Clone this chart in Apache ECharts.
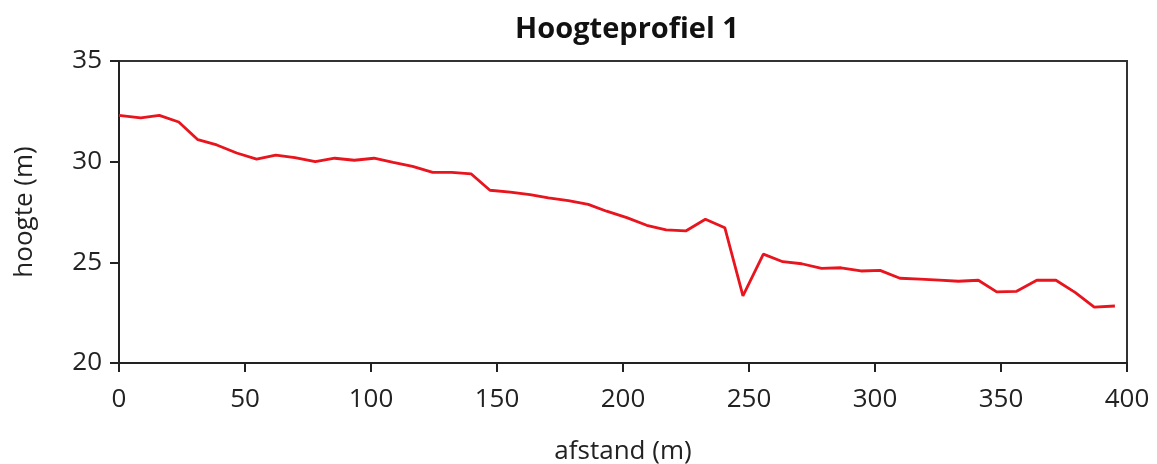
<!DOCTYPE html>
<html>
<head>
<meta charset="utf-8">
<script src="https://cdn.jsdelivr.net/npm/echarts@6/dist/echarts.min.js"></script>
<style>html,body{margin:0;padding:0;background:#fff;}#c{width:1157px;height:464px;}</style>
</head>
<body>
<div id="c"></div>
<script>
const titleText = 'Hoogteprofiel 1';
const xName = 'afstand (m)';
const yName = 'hoogte (m)';
const afstand = [0, 8.6, 16.0, 23.7, 31.3, 38.8, 46.7, 54.6, 62.2, 69.8, 77.9, 85.6, 93.4, 101.2, 108.8, 116.5, 124.5, 132.0, 139.8, 147.2, 155.2, 163.1, 170.4, 178.3, 186.2, 193.5, 201.5, 209.4, 217.1, 224.9, 232.7, 240.4, 247.6, 255.7, 263.4, 270.9, 278.8, 286.5, 294.4, 302.0, 309.9, 317.9, 325.5, 333.1, 341.0, 348.3, 356.2, 364.2, 371.8, 379.4, 387.0, 395.2];
const hoogte = [32.3, 32.17, 32.3, 31.97, 31.09, 30.83, 30.43, 30.13, 30.33, 30.2, 30.0, 30.17, 30.07, 30.17, 29.97, 29.77, 29.47, 29.47, 29.39, 28.58, 28.49, 28.36, 28.2, 28.06, 27.88, 27.54, 27.22, 26.84, 26.61, 26.56, 27.14, 26.72, 23.33, 25.41, 25.03, 24.93, 24.7, 24.73, 24.57, 24.6, 24.21, 24.17, 24.12, 24.06, 24.11, 23.53, 23.56, 24.11, 24.11, 23.51, 22.78, 22.83];
const xTicks = {min: 0, max: 400, interval: 50};
const yTicks = {min: 20, max: 35, interval: 5};

const data = afstand.map((d, i) => [d, hoogte[i]]);
const font = '"Open Sans", Lato, sans-serif';
const chart = echarts.init(document.getElementById('c'));
chart.setOption({
  animation: false,
  backgroundColor: '#fff',
  title: {
    text: titleText, left: 622, top: 10, textAlign: 'center',
    textStyle: {fontFamily: font, fontWeight: 'bold', fontSize: 29, color: '#111'}
  },
  grid: {left: 119, right: 30, top: 61, bottom: 101, containLabel: false, outerBoundsMode: 'none', show: true, borderColor: '#333', borderWidth: 2, backgroundColor: 'transparent'},
  xAxis: {
    type: 'value', min: xTicks.min, max: xTicks.max, interval: xTicks.interval,
    name: xName, nameLocation: 'middle', nameGap: 76,
    nameTextStyle: {fontFamily: font, fontSize: 26, color: '#222'},
    axisLine: {show: true, lineStyle: {color: '#222', width: 2}},
    axisTick: {show: true, length: 9, lineStyle: {color: '#222', width: 2}},
    axisLabel: {fontFamily: font, fontSize: 26, color: '#222', margin: 24},
    splitLine: {show: false}
  },
  yAxis: {
    type: 'value', min: yTicks.min, max: yTicks.max, interval: yTicks.interval,
    name: yName, nameLocation: 'middle', nameGap: 81, nameRotate: 90,
    nameTextStyle: {fontFamily: font, fontSize: 26, color: '#222'},
    axisLine: {show: true, lineStyle: {color: '#222', width: 2}},
    axisTick: {show: true, length: 9, lineStyle: {color: '#222', width: 2}},
    axisLabel: {fontFamily: font, fontSize: 26, color: '#222', margin: 17},
    splitLine: {show: false}
  },
  series: [{
    type: 'line', data: data, showSymbol: false, symbol: 'none',
    lineStyle: {color: '#e8141e', width: 2.8}
  }]
});
</script>
</body>
</html>
